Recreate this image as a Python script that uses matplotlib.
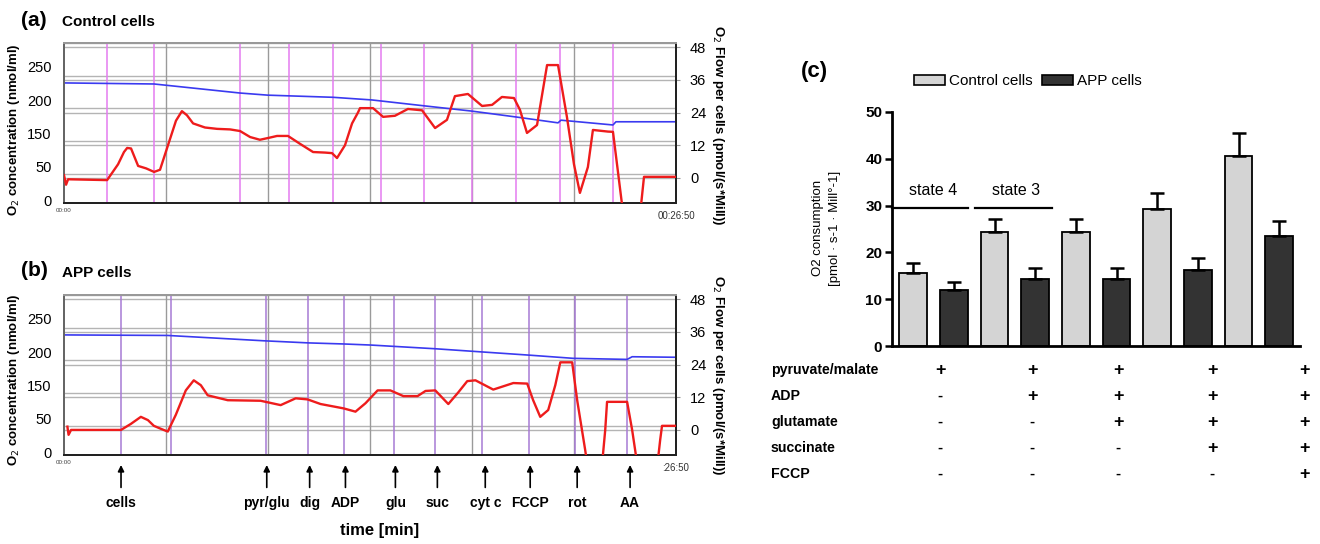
import matplotlib.pyplot as plt
import numpy as np
from matplotlib.patches import Patch

plt.rcParams['font.family'] = ['Liberation Sans', 'DejaVu Sans']

# ---------------- data ----------------
T_END = 26.833  # 00:26:50 in minutes

# panel (a) control cells: O2 concentration (blue) and O2 flow (red)
ctrl_o2_t = [0.0, 3.95, 7.72, 8.94, 11.79, 13.50, 15.78, 17.89, 19.82, 21.66, 21.79, 24.07, 24.20, 26.83]
ctrl_o2 = [220, 218, 201, 197, 193, 188, 177, 167, 156, 145, 150, 141, 147, 147]
ctrl_flow_t = [0.0, 0.09, 0.18, 1.89, 2.37, 2.63, 2.77, 2.94, 3.25, 3.60,
               3.95, 4.21, 4.56, 4.91, 5.17, 5.39, 5.66, 6.18, 6.71, 7.28,
               7.72, 8.16, 8.59, 9.03, 9.34, 9.82, 10.35, 10.92, 11.44, 11.75,
               11.97, 12.32, 12.63, 12.89, 12.98, 13.55, 13.99, 14.51, 15.08, 15.70,
               16.27, 16.79, 17.14, 17.71, 18.33, 18.77, 19.20, 19.73, 19.99, 20.30,
               20.74, 21.18, 21.66, 22.05, 22.36, 22.62, 22.97, 23.19, 23.85, 24.07,
               24.47, 24.91, 25.30, 25.43, 26.83]
ctrl_flow = [1.0, -2.5, -0.5, -0.8, 5, 9.5, 11, 10.8, 4.4, 3.5,
             2.2, 3, 12, 21, 24.5, 23, 20, 18.5, 18, 17.8,
             17.2, 15, 14, 14.8, 15.4, 15.4, 12.5, 9.5, 9.3, 9.1,
             7.3, 12, 20, 24, 25.6, 25.6, 22.4, 22.8, 25.3, 24.8,
             18.3, 21.3, 30, 30.8, 26.4, 26.8, 29.7, 29.3, 25, 16.5,
             19.4, 41.4, 41.4, 22.4, 5, -5.5, 4, 17.6, 17, 16.9,
             -10, -25, -10, 0.4, 0.4]
ctrl_events = [1.89, 3.95, 7.72, 9.87, 11.79, 13.90, 15.78, 17.89, 19.82, 21.75, 24.07]

# panel (b) APP cells
app_o2_t = [0.0, 4.55, 8.75, 10.72, 12.26, 13.44, 16.28, 18.34, 20.40, 22.33, 24.69, 24.91, 26.83]
app_o2 = [220, 219, 209, 205, 203, 201, 194, 188, 182, 176, 174, 179, 178]
app_flow_t = [0.15, 0.20, 0.31, 2.50, 2.93, 3.37, 3.68, 3.94, 4.25, 4.55,
              4.90, 5.34, 5.69, 6.00, 6.30, 7.18, 8.62, 9.50, 10.16, 10.68,
              11.25, 12.26, 12.78, 13.22, 13.75, 14.31, 14.88, 15.50, 15.85, 16.28,
              16.85, 17.29, 17.68, 18.04, 18.82, 19.70, 20.31, 20.57, 20.88, 21.23,
              21.54, 21.76, 22.28, 22.50, 22.85, 23.07, 23.51, 23.73, 23.81, 24.69,
              24.91, 25.04, 25.26, 25.92, 26.14, 26.22, 26.83]
app_flow = [1.2, -1.8, 0, 0, 2.2, 4.8, 3.6, 1.5, 0.4, -0.6,
            5.5, 14.5, 18.2, 16.4, 12.7, 10.9, 10.7, 9.1, 11.6, 11.2,
            9.5, 7.9, 6.7, 9.8, 14.5, 14.5, 12.4, 12.4, 14.3, 14.5,
            9.5, 13.8, 17.9, 18.2, 14.8, 17.2, 17.0, 10.9, 4.8, 7.3,
            16.4, 24.8, 24.8, 10.9, -7.3, -20, -20, 0, 10.3, 10.3,
            0, -7.3, -20, -20, -3.6, 1.5, 1.5]
app_events = [2.50, 4.68, 8.84, 10.72, 12.26, 14.45, 16.28, 18.34, 20.40, 22.41, 24.69]

# injections marked under panel (b)
inj_labels = ['cells', 'pyr/glu', 'dig', 'ADP', 'glu', 'suc', 'cyt c', 'FCCP', 'rot', 'AA']
inj_t = [2.50, 8.89, 10.77, 12.34, 14.53, 16.37, 18.47, 20.44, 22.50, 24.82]

conc_ticks = [0, 62.5, 125, 187.5, 250]
conc_labels = ['0', '50', '150', '200', '250']
flow_ticks = [0, 12, 24, 36, 48]

# panel (c)
ctrl_mean = [15.6, 24.3, 24.4, 29.3, 40.5]
ctrl_sem = [2.2, 2.9, 2.8, 3.3, 5.0]
app_mean = [12.0, 14.4, 14.4, 16.2, 23.4]
app_sem = [1.6, 2.2, 2.2, 2.7, 3.4]
substrates = ['pyruvate/malate', 'ADP', 'glutamate', 'succinate', 'FCCP']
signs = [['+', '+', '+', '+', '+'],
         ['-', '+', '+', '+', '+'],
         ['-', '-', '+', '+', '+'],
         ['-', '-', '-', '+', '+'],
         ['-', '-', '-', '-', '+']]

# ---------------- figure ----------------
W, H = 1320, 544
fig = plt.figure(figsize=(W / 100, H / 100), dpi=100)


def px_axes(left, top, right, bottom):
    return fig.add_axes([left / W, 1 - bottom / H, (right - left) / W, (bottom - top) / H])


def ftext(x, y, s, **kw):
    return fig.text(x / W, 1 - y / H, s, **kw)


def trace_panel(top, o2_t, o2, fl_t, fl, events, ev_color, end_label):
    ax = px_axes(64, top, 676, top + 160)
    ax2 = ax.twinx()
    ax.set_xlim(0, T_END)
    ax.set_ylim(-5.6, 295)
    ax2.set_ylim(-9.2, 49.5)
    r0, r1 = ax2.get_ylim()
    # double grid lines at the flow ticks
    for v in flow_ticks:
        for off in (0, 1.5):
            f = (v + off - r0) / (r1 - r0)
            ax.plot([0, 1], [f, f], transform=ax.transAxes, color='#b4b4b4', lw=1, zorder=0)
    for k in range(1, 6):
        ax.axvline(T_END * k / 6, color='#9a9a9a', lw=1, zorder=0)
    for t in events:
        ax.axvline(t, color=ev_color, lw=1.1, zorder=1)
    ax.plot(o2_t, o2, color='#3a3af0', lw=1.2, zorder=3)
    ax2.plot(fl_t, fl, color='#ee1c1c', lw=1.7, zorder=3)

    ax.set_yticks(conc_ticks)
    ax.set_yticklabels(conc_labels)
    ax.tick_params(axis='y', length=0, pad=9, labelsize=10.5)
    ax2.set_yticks(flow_ticks)
    ax2.tick_params(axis='y', length=3, color='#999999', pad=7, labelsize=10.5)
    ax.set_xticks([])
    ax2.set_xticks([])
    for a in (ax, ax2):
        a.spines['bottom'].set_color('#222222')
        a.spines['right'].set_color('#222222')
        a.spines['left'].set_color('#666666')
        a.spines['top'].set_color('#999999')
        for s in a.spines.values():
            s.set_linewidth(1.4)
    ax.text(0, -0.045, '00:00', transform=ax.get_xaxis_transform(), ha='center', va='center',
            fontsize=4.5, color='#444444')
    ax.text(T_END, -0.08, end_label, transform=ax.get_xaxis_transform(), ha='center', va='center',
            fontsize=7, color='#333333')
    return ax


ax_a = trace_panel(43, ctrl_o2_t, ctrl_o2, ctrl_flow_t, ctrl_flow, ctrl_events, '#e47cf0', '00:26:50')
ax_b = trace_panel(295, app_o2_t, app_o2, app_flow_t, app_flow, app_events, '#a77ad4', ':26:50')

ftext(21, 20, '(a)', fontsize=15, fontweight='bold', va='center')
ftext(62, 22, 'Control cells', fontsize=11, fontweight='bold', va='center')
ftext(21, 271, '(b)', fontsize=15, fontweight='bold', va='center')
ftext(62, 273, 'APP cells', fontsize=11, fontweight='bold', va='center')

for yc in (130, 380):
    ftext(14, yc, 'O$_2$ concentration (nmol/ml)', rotation=90, fontsize=9.5, fontweight='bold',
          ha='center', va='center')
    ftext(718, yc - 5, 'O$_2$ Flow per cells (pmol/(s*Mill))', rotation=-90, fontsize=9.5,
          fontweight='bold', ha='center', va='center')

# injection arrows below panel (b)
for lab, t in zip(inj_labels, inj_t):
    ax_b.annotate('', xy=(t, -0.045), xytext=(t, -0.22), xycoords=ax_b.get_xaxis_transform(),
                  arrowprops=dict(arrowstyle='-|>', color='black', lw=1.2, mutation_scale=9),
                  annotation_clip=False)
    ax_b.text(t, -0.30, lab, transform=ax_b.get_xaxis_transform(), ha='center', va='center',
              fontsize=10, fontweight='bold')
ftext(380, 530, 'time [min]', fontsize=12, fontweight='bold', ha='center', va='center')

# ---------------- panel (c) ----------------
axc = px_axes(892, 112, 1300, 346)
pos = np.arange(5) * 2
axc.bar(pos, ctrl_mean, width=0.68, color='#d4d4d4', edgecolor='black', linewidth=1.3,
        yerr=[np.zeros(5), ctrl_sem], capsize=5,
        error_kw=dict(elinewidth=1.8, capthick=1.8, ecolor='black'), zorder=2)
axc.bar(pos + 1, app_mean, width=0.68, color='#333333', edgecolor='black', linewidth=1.3,
        yerr=[np.zeros(5), app_sem], capsize=5,
        error_kw=dict(elinewidth=1.8, capthick=1.8, ecolor='black'), zorder=2)
axc.set_xlim(-0.52, 9.51)
axc.set_ylim(0, 50)
axc.set_yticks(np.arange(0, 51, 10))
axc.set_xticks([])
for lab in axc.get_yticklabels():
    lab.set_fontweight('bold')
axc.tick_params(axis='y', labelsize=11, width=1.8, length=5, pad=2)
axc.spines['top'].set_visible(False)
axc.spines['right'].set_visible(False)
axc.spines['left'].set_linewidth(2)
axc.spines['bottom'].set_linewidth(2)

# state brackets
axc.plot([pos[0] - 0.52, pos[0] + 1.35], [29.5, 29.5], color='black', lw=1.6, clip_on=False)
axc.plot([pos[1] - 0.48, pos[1] + 1.41], [29.5, 29.5], color='black', lw=1.6, clip_on=False)
axc.text(pos[0] + 0.48, 33.2, 'state 4', ha='center', va='center', fontsize=11.5)
axc.text(pos[1] + 0.52, 33.2, 'state 3', ha='center', va='center', fontsize=11.5)

ftext(818, 228, 'O2 consumption', rotation=90, fontsize=9.5, ha='center', va='center')
ftext(835, 228, '[pmol · s-1 · Mill°-1]', rotation=90, fontsize=9.5, ha='center', va='center')
ftext(801, 71, '(c)', fontsize=16, fontweight='bold', va='center')

handles = [Patch(facecolor='#d4d4d4', edgecolor='black', lw=1.2, label='Control cells'),
           Patch(facecolor='#333333', edgecolor='black', lw=1.2, label='APP cells')]
fig.legend(handles=handles, loc='center', bbox_to_anchor=(1028 / W, 1 - 81 / H), ncol=2,
           frameon=False, fontsize=11, handlelength=2.0, handleheight=0.65,
           handletextpad=0.3, columnspacing=0.6)

# substrate table
row_y = [370, 396, 422, 448, 474]
col_x = [940, 1032, 1118, 1212, 1305]
for name, y, row in zip(substrates, row_y, signs):
    ftext(771, y, name, fontsize=10.2, fontweight='bold', va='center')
    for x, s in zip(col_x, row):
        ftext(x, y, s, fontsize=13 if s == '+' else 11, fontweight='bold', ha='center', va='center')

fig.savefig('out.png', dpi=100)
